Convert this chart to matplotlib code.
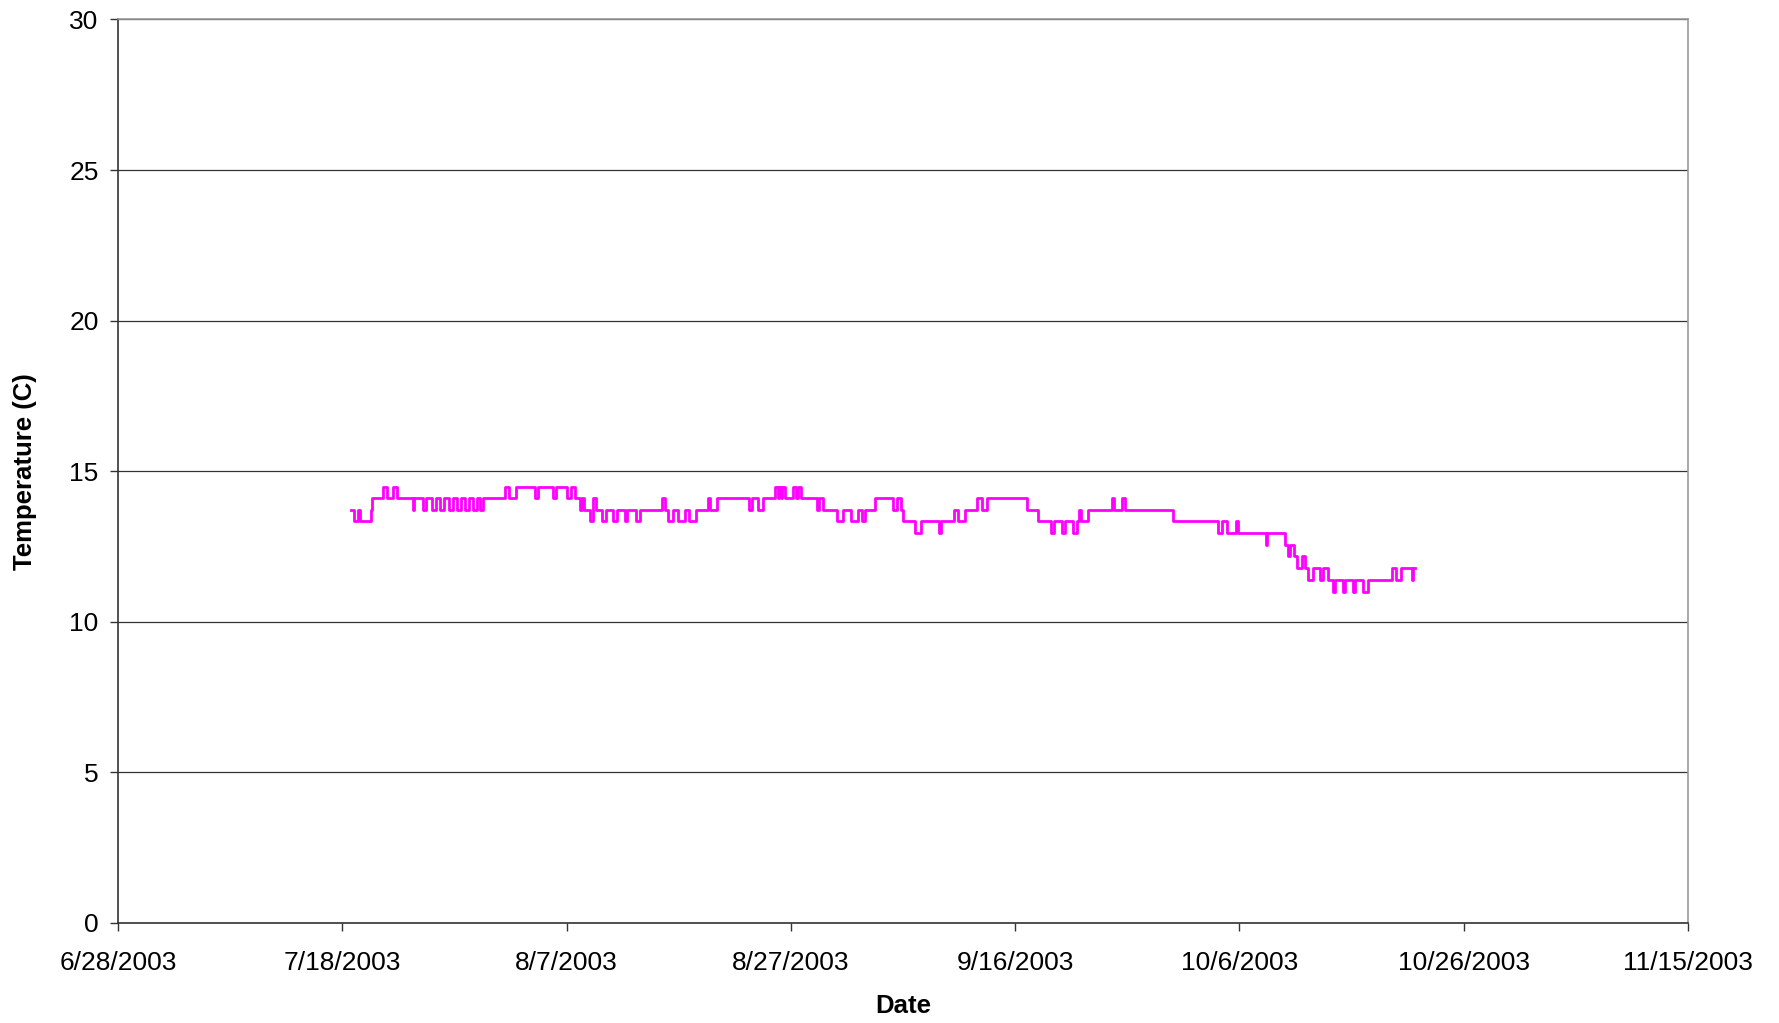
import numpy as np
import pandas as pd
import matplotlib
matplotlib.use('Agg')
import matplotlib.pyplot as plt
import matplotlib.dates as mdates

plt.rcParams['font.family'] = ['Liberation Sans', 'DejaVu Sans']

# logger readings: days after 6/28/2003 where the reading changes, and the new reading (C)
start = pd.Timestamp('2003-06-28')
step_day = [
    20.78, 21.04, 21.43, 21.58, 22.56, 22.68, 23.66, 23.96, 24.49, 24.91,
    26.28, 26.40, 27.17, 27.47, 27.97, 28.35, 28.71, 29.07, 29.55, 29.90,
    30.26, 30.56, 30.94, 31.27, 31.63, 31.98, 32.28, 32.58,
    34.51, 34.90, 35.49,
    37.18, 37.48, 38.82, 39.06, 40.01, 40.37, 40.75,
    41.20, 41.38, 41.56, 42.09, 42.33, 42.62, 43.13, 43.51,
    44.17, 44.46, 45.21, 45.42, 46.19, 46.55, 48.48, 48.78, 49.08, 49.52,
    49.90, 50.56, 50.94, 51.54,
    52.64, 52.79, 53.38, 56.29, 56.50, 57.10, 57.54, 58.59, 58.89, 58.98,
    59.10, 59.19, 59.48,
    60.16, 60.46, 60.67, 60.88, 62.30, 62.54, 62.90, 64.09, 64.62, 65.34,
    66.02, 66.32, 66.61, 67.50,
    69.14, 69.50, 69.80, 69.97, 71.07, 71.58, 73.24, 73.39, 74.55, 74.94,
    75.53, 76.57, 77.04, 77.46,
    81.03, 82.06, 83.16, 83.47, 84.15, 84.45, 85.19, 85.49, 85.70, 85.88,
    86.53, 88.61, 88.84, 89.56, 89.80,
    94.05, 98.12, 98.42, 98.92, 99.70, 99.91, 102.37, 102.48, 104.06, 104.30,
    104.51, 104.90, 105.11,
    105.55, 105.84, 106.14, 106.59, 107.18, 107.48, 107.93, 108.31, 108.52,
    109.21, 109.41, 110.10, 110.30,
    111.05, 111.49, 113.58, 113.96, 114.38, 115.36, 115.50, 115.65]
step_temp = [
    13.71, 13.33, 13.71, 13.33, 13.71, 14.10, 14.47, 14.10, 14.47, 14.10,
    13.71, 14.10, 13.71, 14.10, 13.71, 14.10, 13.71, 14.10, 13.71, 14.10,
    13.71, 14.10, 13.71, 14.10, 13.71, 14.10, 13.71, 14.10,
    14.47, 14.10, 14.47,
    14.10, 14.47, 14.10, 14.47, 14.10, 14.47, 14.10,
    13.71, 14.10, 13.71, 13.33, 14.10, 13.71, 13.33, 13.71,
    13.33, 13.71, 13.33, 13.71, 13.33, 13.71, 14.10, 13.71, 13.33, 13.71,
    13.33, 13.71, 13.33, 13.71,
    14.10, 13.71, 14.10, 13.71, 14.10, 13.71, 14.10, 14.47, 14.10, 14.47,
    14.10, 14.47, 14.10,
    14.47, 14.10, 14.47, 14.10, 13.71, 14.10, 13.71, 13.33, 13.71, 13.33,
    13.71, 13.33, 13.71, 14.10,
    13.71, 14.10, 13.71, 13.33, 12.96, 13.33, 12.96, 13.33, 13.71, 13.33,
    13.71, 14.10, 13.71, 14.10,
    13.71, 13.33, 12.96, 13.33, 12.96, 13.33, 12.96, 13.33, 13.71, 13.33,
    13.71, 14.10, 13.71, 14.10, 13.71,
    13.33, 12.96, 13.33, 12.96, 13.33, 12.96, 12.56, 12.96, 12.56, 12.17,
    12.56, 12.17, 11.77,
    12.17, 11.77, 11.39, 11.77, 11.39, 11.77, 11.39, 11.00, 11.39,
    11.00, 11.39, 11.00, 11.39,
    11.00, 11.39, 11.77, 11.39, 11.77, 11.39, 11.77, 11.77]

x_ticks = pd.date_range('2003-06-28', '2003-11-15', freq='20D')
y_ticks = [0, 5, 10, 15, 20, 25, 30]

times = start + pd.to_timedelta(step_day, unit='D')

fig = plt.figure(figsize=(17.79, 10.23), dpi=100)
ax = fig.add_axes([0.0663, 0.0978, 0.8825, 0.8832])

ax.plot(times, step_temp, drawstyle='steps-post', color='#FF00FF', lw=2.0)

ax.set_xlim(x_ticks[0], x_ticks[-1])
ax.set_ylim(0, 30)
ax.set_xticks(x_ticks)
ax.set_xticklabels(['%d/%d/%d' % (d.month, d.day, d.year) for d in x_ticks])
ax.set_yticks(y_ticks)
ax.yaxis.grid(True, color='#333333', lw=0.9)
ax.set_axisbelow(True)

ax.tick_params(axis='both', labelsize=19, length=6, width=1, color='#333333', direction='out')
ax.tick_params(axis='y', pad=8)
ax.tick_params(axis='x', pad=14)
for s in ['left', 'bottom']:
    ax.spines[s].set_color('#333333')
    ax.spines[s].set_linewidth(1.2)
for s in ['top', 'right']:
    ax.spines[s].set_color('#999999')
    ax.spines[s].set_linewidth(1.2)

ax.set_xlabel('Date', fontsize=18.5, fontweight='bold', labelpad=14)
ax.set_ylabel('Temperature (C)', fontsize=18.5, fontweight='bold', labelpad=23)

fig.savefig('out.png', dpi=100)
